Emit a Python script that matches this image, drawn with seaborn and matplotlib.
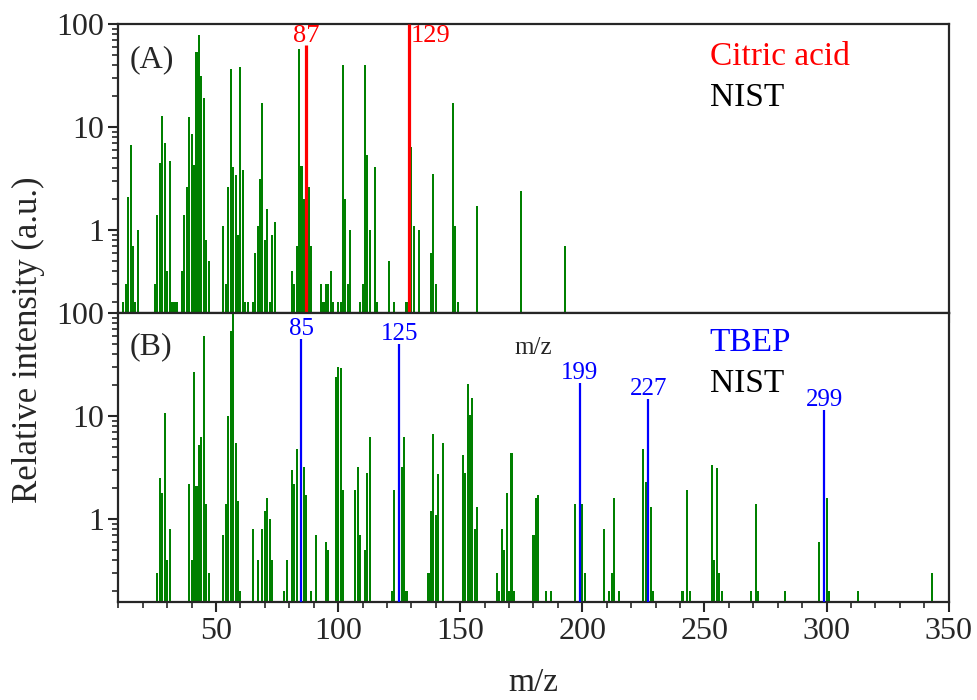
import numpy as np
import pandas as pd
import seaborn as sns
import matplotlib
matplotlib.use("Agg")
import matplotlib.pyplot as plt
from matplotlib.ticker import MultipleLocator, LogLocator, FuncFormatter, NullFormatter

# (A) citric acid, NIST spectrum
mz_a = [12, 13, 14, 15, 16, 17, 18,
        25, 26, 27, 28, 29, 30, 31, 32, 33, 34,
        36, 37, 38, 39, 40, 41, 42, 43, 44, 45, 46, 47,
        53, 54, 55, 56, 57, 58, 59, 60, 61, 62, 63,
        65, 66, 67, 68, 69, 70, 71, 72, 73, 74,
        81, 82, 83, 84, 85, 86, 88, 89,
        93, 94, 95, 96, 97, 98, 100, 101, 102, 103, 104, 105,
        109, 110, 111, 112, 113, 115, 116, 121, 123, 128,
        130, 131, 133, 138, 139, 140, 147, 148, 149, 157, 175, 193]
int_a = [0.2, 0.3, 2.1, 6.6, 0.7, 0.2, 1.0,
         0.3, 1.4, 4.5, 12.6, 6.9, 0.4, 4.7, 0.2, 0.2, 0.2,
         0.4, 1.4, 2.6, 12.5, 8.5, 4.3, 53, 77, 31, 19, 0.8, 0.5,
         1.1, 0.3, 2.6, 36, 4.1, 3.4, 0.9, 38, 3.8, 0.2, 0.2,
         0.2, 0.6, 1.1, 3.1, 17, 0.8, 1.6, 0.2, 0.9, 1.2,
         0.4, 0.3, 0.7, 57, 4.2, 2.0, 2.6, 0.7,
         0.3, 0.2, 0.3, 0.3, 0.4, 0.2, 0.2, 0.2, 40, 2.0, 0.3, 1.0,
         0.2, 0.3, 40, 5.3, 1.0, 4.1, 0.2, 0.5, 0.2, 0.2,
         6.4, 1.1, 1.0, 0.6, 3.5, 0.3, 17, 1.1, 0.2, 1.7, 2.4, 0.7]
peaks_a = [87, 129]
peak_int_a = [62, 100]

# (B) TBEP, NIST spectrum
mz_b = [26, 27, 28, 29, 30, 31,
        39, 40, 41, 42, 43, 44, 45, 46, 47,
        53, 54, 55, 56, 57, 58, 59, 60,
        65, 67, 69, 70, 71, 72, 73,
        78, 79, 81, 82, 83, 86, 87, 89, 91, 95, 96,
        99, 100, 101, 102, 107, 108, 109, 111, 112, 113,
        122, 123, 126, 127, 128,
        137, 138, 139, 140, 141, 143,
        151, 152, 153, 154, 155, 156, 157,
        165, 166, 167, 168, 169, 170, 171, 172,
        180, 181, 182, 185, 187,
        197, 200, 201, 209, 211, 212, 213, 215,
        225, 226, 228, 229, 241, 243, 244,
        253, 254, 255, 256, 257, 269, 271, 272, 283,
        297, 300, 301, 313, 343]
int_b = [0.3, 2.5, 1.8, 10.7, 0.4, 0.8,
         2.2, 0.4, 26.7, 2.1, 5.2, 6.2, 60, 1.4, 0.3,
         0.7, 1.4, 10, 66, 100, 5.5, 1.5, 0.2,
         0.8, 0.4, 0.8, 1.2, 1.6, 1.0, 0.4,
         0.2, 0.4, 3.0, 2.2, 4.8, 3.2, 1.7, 0.2, 0.7, 0.6, 0.5,
         24, 30, 29.5, 1.9, 1.9, 3.2, 0.7, 0.5, 2.8, 6.3,
         0.2, 1.9, 3.2, 6.3, 0.2,
         0.3, 1.2, 6.6, 1.1, 2.7, 5.5,
         4.2, 2.8, 20.6, 10.2, 14.8, 0.8, 1.3,
         0.3, 0.2, 0.8, 0.5, 1.8, 0.2, 4.4, 0.2,
         0.7, 1.6, 1.7, 0.2, 0.2,
         1.4, 1.4, 0.3, 0.8, 0.2, 0.3, 1.6, 0.2,
         4.8, 2.3, 1.3, 0.2, 0.2, 1.9, 0.2,
         3.3, 0.4, 3.1, 0.3, 0.2, 0.2, 1.4, 0.2, 0.2,
         0.6, 1.6, 0.2, 0.2, 0.3]
peaks_b = [85, 125, 199, 227, 299]
peak_int_b = [56, 50, 21, 14.6, 11.5]

sns.set_style("ticks")
plt.rcParams["font.family"] = ["Liberation Serif", "DejaVu Serif"]
plt.rcParams["axes.linewidth"] = 1.6

fig, (ax1, ax2) = plt.subplots(2, 1, figsize=(9.78, 7.0), dpi=100, sharex=True)
fig.subplots_adjust(left=0.121, right=0.970, top=0.966, bottom=0.14, hspace=0)

ylo, yhi = 0.156, 100

df_a = pd.DataFrame({"mz": mz_a, "intensity": int_a})
df_b = pd.DataFrame({"mz": mz_b, "intensity": int_b})

for ax, df in [(ax1, df_a), (ax2, df_b)]:
    sns.barplot(data=df, x="mz", y="intensity", native_scale=True, color="#008000",
                saturation=1, width=0.85, errorbar=None, linewidth=0,
                edgecolor="#008000", ax=ax)

ax1.vlines(peaks_a, ylo, peak_int_a, color="red", lw=2.3, zorder=3)
ax2.vlines(peaks_b, ylo, peak_int_b, color="blue", lw=1.6, zorder=3)

for ax in (ax1, ax2):
    ax.set_yscale("log")
    ax.set_ylim(ylo, yhi)
    ax.set_xlim(10, 350)
    ax.set_ylabel("")
    ax.set_xlabel("")
    ax.xaxis.set_major_locator(MultipleLocator(50))
    ax.xaxis.set_minor_locator(MultipleLocator(10))
    ax.yaxis.set_major_locator(LogLocator(base=10))
    ax.yaxis.set_minor_locator(LogLocator(base=10, subs=np.arange(2, 10)))
    ax.yaxis.set_major_formatter(FuncFormatter(lambda v, p: f"{v:g}"))
    ax.yaxis.set_minor_formatter(NullFormatter())
    ax.tick_params(axis="both", which="major", direction="out", length=7, width=1.5,
                   labelsize=23, top=False, right=False)
    ax.tick_params(axis="both", which="minor", direction="out", length=4, width=1.2,
                   top=False, right=False)
    for s in ax.spines.values():
        s.set_visible(True)
        s.set_linewidth(1.6)

ax1.tick_params(axis="x", labelbottom=False)

# peak labels
for x, v in zip(peaks_a, peak_int_a):
    if v < 90:
        ax1.text(x, v * 0.97, str(x), color="red", fontsize=19, ha="center", va="bottom")
    else:
        ax1.text(x + 0.8, v * 0.97, str(x), color="red", fontsize=19, ha="left", va="top")
for x, v in zip(peaks_b, peak_int_b):
    ax2.text(x, v * 0.97, str(x), color="blue", fontsize=18, ha="center", va="bottom")

ax1.text(0.014, 0.875, "(A)", transform=ax1.transAxes, fontsize=23, va="center")
ax1.text(0.712, 0.886, "Citric acid", transform=ax1.transAxes, fontsize=24, color="red", va="center")
ax1.text(0.712, 0.744, "NIST", transform=ax1.transAxes, fontsize=24, color="black", va="center")

ax2.text(0.014, 0.882, "(B)", transform=ax2.transAxes, fontsize=23, va="center")
ax2.text(0.5, 0.879, "m/z", transform=ax2.transAxes, fontsize=18, ha="center", va="center")
ax2.text(0.712, 0.896, "TBEP", transform=ax2.transAxes, fontsize=24, color="blue", va="center")
ax2.text(0.712, 0.754, "NIST", transform=ax2.transAxes, fontsize=24, color="black", va="center")

ax2.set_xlabel("m/z", fontsize=24, labelpad=16)
fig.text(0.029, 0.514, "Relative intensity (a.u.)", rotation=90, fontsize=25,
         ha="center", va="center")

fig.savefig("out.png", dpi=100)
